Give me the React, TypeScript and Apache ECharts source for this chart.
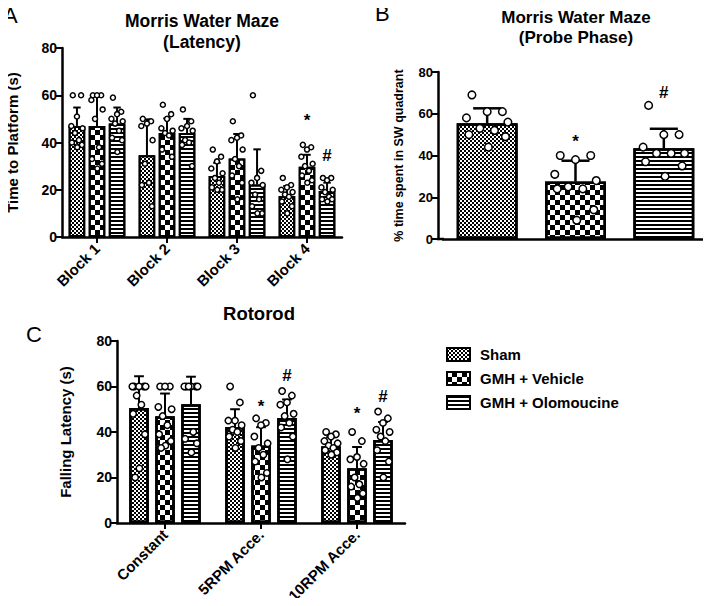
import React, { useEffect, useRef } from "react";
import * as echarts from "echarts";

const FONT = 'Arial, "Liberation Sans", Helvetica, sans-serif';

// ---------- shared ----------
const groups = ["Sham", "GMH + Vehicle", "GMH + Olomoucine"];

// ---------- Panel A : Morris Water Maze (Latency) ----------
const blocks = ["Block 1", "Block 2", "Block 3", "Block 4"];
const shamLatency = [47, 34.6, 25.8, 17.4];
const vehicleLatency = [47, 44, 33.2, 29.7];
const olomLatency = [48, 44, 22.2, 19.5];
const shamLatencySD = [7.8, 15.2, 5.6, 4.2];
const vehicleLatencySD = [12.6, 6.2, 10.4, 5.1];
const olomLatencySD = [6.8, 6, 14.9, 3.5];
const shamLatencyPts = [
  [60, 60, 51, 47, 46, 44, 41, 40, 39, 38],
  [50, 49, 48, 47, 41, 31, 23, 22, 13],
  [37, 34, 32, 29, 27, 25, 23, 21, 20, 20],
  [25, 22, 21, 20, 19, 18, 17, 15, 13, 10],
];
const vehicleLatencyPts = [
  [60, 60, 60, 58, 54, 50, 38, 33, 31, 29],
  [56, 52, 50, 46, 45, 44, 43, 37, 34],
  [49, 43, 42, 41, 37, 33, 30, 26, 23, 16],
  [39, 38, 37, 34, 31, 30, 28, 26, 24, 23],
];
const olomLatencyPts = [
  [59, 53, 52, 50, 49, 48, 45, 42, 41, 36],
  [54, 49, 47, 46, 45, 41, 40, 39, 30],
  [60, 28, 25, 23, 22, 18, 16, 13, 10, 10],
  [25, 25, 24, 21, 20, 19, 17, 16, 16, 15],
];
// [categoryIndex, groupIndex, yValue]
const latencyMarkPos = [
  [3, 1, 49.5],
  [3, 2, 34.7],
];
const latencyMarks = ["*", "#"];

// ---------- Panel B : Probe phase ----------
const probeMean = [55.5, 27.5, 43.5];
const probeSD = [7.1, 10, 9.3];
const shamProbePts = [69, 61, 61, 58, 56, 53, 52, 50, 49, 44];
const vehicleProbePts = [40, 40, 38, 31, 28, 25, 24, 24, 14, 9];
const olomProbePts = [64, 50, 50, 44, 41, 41, 41, 37, 35, 30];
const probeMarkPos = [
  [1, 0, 46.5],
  [2, 0, 70],
];
const probeMarks = ["*", "#"];

// ---------- Panel C : Rotorod ----------
const rotorodTests = ["Constant", "5RPM Acce.", "10RPM Acce."];
const shamFall = [50.5, 42.2, 33.7];
const vehicleFall = [46.9, 34.1, 24.1];
const olomFall = [52.2, 46.2, 36.5];
const shamFallSD = [14, 7.8, 4];
const vehicleFallSD = [10, 8, 9.3];
const olomFallSD = [12.1, 8.1, 7.9];
const shamFallPts = [
  [60, 60, 60, 60, 60, 56, 52, 48, 39, 24, 20],
  [60, 53, 45, 45, 43, 41, 40, 38, 36, 33],
  [40, 39, 38, 36, 35, 34, 33, 32, 31, 30],
];
const vehicleFallPts = [
  [60, 60, 60, 51, 50, 47, 43, 39, 36, 34, 33],
  [46, 44, 43, 38, 35, 33, 30, 27, 22, 20],
  [40, 36, 29, 28, 26, 20, 17, 16, 13, 11],
];
const olomFallPts = [
  [60, 60, 60, 60, 60, 60, 40, 37, 35, 31],
  [58, 56, 53, 52, 48, 47, 44, 42, 38, 28],
  [49, 46, 44, 41, 40, 38, 36, 32, 27, 20],
];
const fallMarkPos = [
  [1, 1, 51],
  [1, 2, 65],
  [2, 1, 48.3],
  [2, 2, 55.5],
];
const fallMarks = ["*", "#", "*", "#"];

const yTicks = [0, 20, 40, 60, 80];

// ---------- styling ----------
const DECALS: any[] = [
  { symbol: "rect", symbolSize: 1, symbolKeepAspect: false, color: "#000", dashArrayX: [[2, 2], [0, 2, 2, 0]], dashArrayY: [2, 0] },
  { symbol: "rect", symbolSize: 1, symbolKeepAspect: false, color: "#000", dashArrayX: [[5, 5], [0, 5, 5, 0]], dashArrayY: [5, 0] },
  { symbol: "rect", symbolSize: 1, symbolKeepAspect: false, color: "#000", dashArrayX: [8, 0], dashArrayY: [2, 2] },
];
const JITTER = [-0.25, 0.25, 0, -0.34, 0.34, -0.12, 0.12, -0.3, 0.3, 0.02, -0.2, 0.2];

type Layout = { n: number; catGap: number; barGap: number };
const LA: Layout = { n: 3, catGap: 0.19, barGap: 0.21 };
const LB: Layout = { n: 1, catGap: 0.31, barGap: 0 };
const LC: Layout = { n: 3, catGap: 0.255, barGap: 0.33 };

function barPos(api: any, cat: number, g: number, L: Layout) {
  const c0 = api.coord([0, 0])[0];
  const c1 = api.coord([1, 0])[0];
  const band = Math.abs(c1 - c0);
  const bw = (band * (1 - L.catGap)) / (L.n + (L.n - 1) * L.barGap);
  const total = L.n * bw + (L.n - 1) * L.barGap * bw;
  const center = api.coord([cat, 0])[0] - total / 2 + g * bw * (1 + L.barGap) + bw / 2;
  return { x: center, bw };
}

function errorSeries(xi: number, L: Layout, means: number[][], sds: number[][], lw: number, capFrac: number) {
  const data: number[][] = [];
  means.forEach((arr, g) => arr.forEach((m, c) => data.push([c, g, m, sds[g][c]])));
  return {
    type: "custom",
    xAxisIndex: xi,
    yAxisIndex: xi,
    encode: { x: 0, y: 2 },
    z: 3,
    silent: true,
    data,
    renderItem: (params: any, api: any) => {
      const c = api.value(0), g = api.value(1), m = api.value(2), s = api.value(3);
      const { x, bw } = barPos(api, c, g, L);
      const yb = api.coord([c, m])[1];
      const yt = api.coord([c, m + s])[1];
      const hw = (bw * capFrac) / 2;
      const st = { stroke: "#000", lineWidth: lw, fill: null };
      return {
        type: "group",
        children: [
          { type: "line", shape: { x1: x, y1: yb, x2: x, y2: yt }, style: st },
          { type: "line", shape: { x1: x - hw, y1: yt, x2: x + hw, y2: yt }, style: st },
        ],
      };
    },
  };
}

function pointSeries(xi: number, L: Layout, pts: number[][][], r: number, spread: number) {
  const data: number[][] = [];
  pts.forEach((byCat, g) => byCat.forEach((vals, c) => vals.forEach((v, k) => data.push([c, g, v, k]))));
  return {
    type: "custom",
    xAxisIndex: xi,
    yAxisIndex: xi,
    encode: { x: 0, y: 2 },
    z: 4,
    silent: true,
    data,
    renderItem: (params: any, api: any) => {
      const c = api.value(0), g = api.value(1), v = api.value(2), k = api.value(3);
      const { x, bw } = barPos(api, c, g, L);
      const y = api.coord([c, v])[1];
      const dx = JITTER[k % JITTER.length] * bw * spread;
      return {
        type: "circle",
        shape: { cx: x + dx, cy: y, r },
        style: { fill: "#fff", stroke: "#000", lineWidth: 1.5 },
      };
    },
  };
}

function markSeries(xi: number, L: Layout, pos: number[][], marks: string[], size: number) {
  return {
    type: "custom",
    xAxisIndex: xi,
    yAxisIndex: xi,
    encode: { x: 0, y: 2 },
    z: 5,
    silent: true,
    data: pos,
    renderItem: (params: any, api: any) => {
      const c = api.value(0), g = api.value(1), v = api.value(2);
      const { x } = barPos(api, c, g, L);
      const y = api.coord([c, v])[1];
      return {
        type: "text",
        x,
        y,
        style: {
          text: marks[params.dataIndex],
          fill: "#000",
          font: `bold ${size}px ${FONT}`,
          textAlign: "center",
          textVerticalAlign: "middle",
          align: "center",
          verticalAlign: "middle",
        },
      };
    },
  };
}

function barSeries(name: string, xi: number, data: any[], L: Layout, decal: any, bw: number) {
  return {
    type: "bar",
    name,
    xAxisIndex: xi,
    yAxisIndex: xi,
    data,
    barGap: `${L.barGap * 100}%`,
    barCategoryGap: `${L.catGap * 100}%`,
    z: 2,
    silent: true,
    itemStyle: { color: "#fff", borderColor: "#000", borderWidth: bw, decal },
  };
}

function yAxis(gi: number, name: string, nameGap: number, nameSize: number, labelSize: number, offset = 0) {
  return {
    type: "value",
    gridIndex: gi,
    min: 0,
    max: 80,
    interval: 20,
    offset,
    name,
    nameLocation: "middle",
    nameGap,
    nameRotate: 90,
    nameTextStyle: { fontSize: nameSize, fontWeight: "bold", color: "#000", fontFamily: FONT },
    axisLine: { show: true, lineStyle: { color: "#000", width: 2.5 } },
    axisTick: { show: true, length: 6, lineStyle: { color: "#000", width: 2 } },
    splitLine: { show: false },
    axisLabel: {
      fontSize: labelSize,
      fontWeight: "bold",
      color: "#000",
      fontFamily: FONT,
      margin: 5,
      formatter: (v: number) => (yTicks.includes(v) ? String(v) : ""),
    },
  };
}

function xAxis(gi: number, data: string[], labelSize: number, showLabels: boolean) {
  return {
    type: "category",
    gridIndex: gi,
    data,
    axisLine: { show: true, lineStyle: { color: "#000", width: 2.5 } },
    axisTick: { show: showLabels, alignWithLabel: true, length: 6, lineStyle: { color: "#000", width: 2 } },
    axisLabel: {
      show: showLabels,
      rotate: 45,
      fontSize: labelSize,
      fontWeight: "bold",
      color: "#000",
      fontFamily: FONT,
      margin: 9,
    },
  };
}

function txt(text: string, x: number, y: number, size: number, bold: boolean, align = "center") {
  return {
    type: "text",
    x,
    y,
    silent: true,
    style: {
      text,
      fill: "#000",
      font: `${bold ? "bold " : ""}${size}px ${FONT}`,
      textAlign: align,
      textVerticalAlign: "middle",
      align,
      verticalAlign: "middle",
    },
  };
}

export default function App() {
  const ref = useRef<HTMLDivElement>(null);
  useEffect(() => {
    if (!ref.current) return;
    const chart = echarts.init(ref.current, null, { renderer: "svg" });
    const latMeans = [shamLatency, vehicleLatency, olomLatency];
    const latSDs = [shamLatencySD, vehicleLatencySD, olomLatencySD];
    const latPts = [shamLatencyPts, vehicleLatencyPts, olomLatencyPts];
    const fallMeans = [shamFall, vehicleFall, olomFall];
    const fallSDs = [shamFallSD, vehicleFallSD, olomFallSD];
    const fallPts = [shamFallPts, vehicleFallPts, olomFallPts];
    const probePts = [shamProbePts, vehicleProbePts, olomProbePts];

    const option: any = {
      animation: false,
      backgroundColor: "#fff",
      textStyle: { fontFamily: FONT },
      grid: [
        { left: 62, top: 48, width: 280, height: 189 },
        { left: 443, top: 72, width: 265, height: 167 },
        { left: 117, top: 341, width: 288, height: 187 },
      ],
      xAxis: [xAxis(0, blocks, 15, true), xAxis(1, groups, 12, false), xAxis(2, rotorodTests, 15, true)],
      yAxis: [
        yAxis(0, "Time to Platform (s)", 42, 15, 14),
        yAxis(1, "% time spent in SW quadrant", 33, 12.5, 13, 5),
        yAxis(2, "Falling Latency (s)", 44, 15, 14),
      ],
      legend: {
        data: groups,
        orient: "vertical",
        left: 446,
        top: 347,
        padding: 0,
        itemWidth: 23,
        itemHeight: 13,
        itemGap: 9,
        selectedMode: false,
        icon: "rect",
        itemStyle: { borderColor: "#000", borderWidth: 2 },
        textStyle: { fontSize: 15, fontWeight: "bold", color: "#000", fontFamily: FONT, padding: [0, 0, 0, 5] },
      },
      graphic: [
        txt("A", 3, 15, 22, false, "left"),
        txt("B", 375, 13, 22, false, "left"),
        txt("C", 26, 334, 22, false, "left"),
        txt("Morris Water Maze", 202, 21, 17.5, true),
        txt("(Latency)", 202, 42, 17.5, true),
        txt("Morris Water Maze", 576, 17, 17, true),
        txt("(Probe Phase)", 576, 37, 17, true),
        txt("Rotorod", 259, 313, 18.5, true),
        {
          type: "line",
          silent: true,
          shape: { x1: 436.8, y1: 239, x2: 444, y2: 239 },
          style: { stroke: "#000", lineWidth: 2.5 },
        },
      ],
      series: [
        ...groups.map((g, i) => barSeries(g, 0, latMeans[i], LA, DECALS[i], 2)),
        barSeries(
          "Probe",
          1,
          probeMean.map((v, i) => ({ value: v, itemStyle: { decal: DECALS[i] } })),
          LB,
          DECALS[0],
          2.5
        ),
        ...groups.map((g, i) => barSeries(g, 2, fallMeans[i], LC, DECALS[i], 2.5)),
        errorSeries(0, LA, latMeans, latSDs, 2, 0.45),
        errorSeries(1, LB, [probeMean], [probeSD], 2.5, 0.46),
        errorSeries(2, LC, fallMeans, fallSDs, 2, 0.5),
        pointSeries(0, LA, latPts, 2.5, 1),
        pointSeries(1, LB, [probePts], 3.8, 1),
        pointSeries(2, LC, fallPts, 3.2, 1),
        markSeries(0, LA, latencyMarkPos, latencyMarks, 17),
        markSeries(1, LB, probeMarkPos, probeMarks, 17),
        markSeries(2, LC, fallMarkPos, fallMarks, 17),
      ],
    };
    chart.setOption(option);
    return () => chart.dispose();
  }, []);
  return <div ref={ref} style={{ width: 711, height: 606, margin: -8 }} />;
}
